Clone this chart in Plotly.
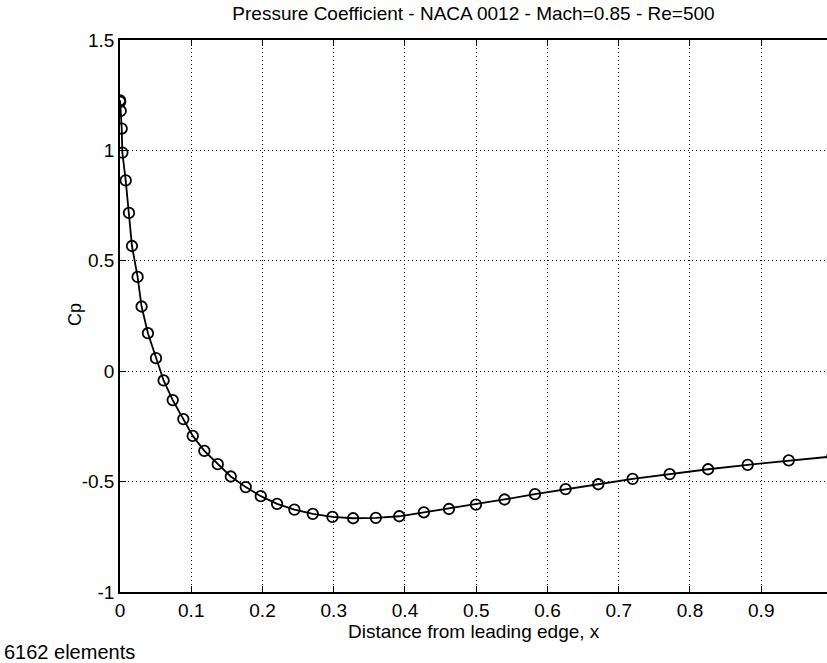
import plotly.graph_objects as go

# Data
x_pos = [0.0, 0.0002, 0.001, 0.0024, 0.0033, 0.008, 0.0126, 0.0168, 0.0247, 0.0303,
         0.0392, 0.0505, 0.0612, 0.0740, 0.0889, 0.1021, 0.1184, 0.1372, 0.1555, 0.1765,
         0.1976, 0.2205, 0.2448, 0.2706, 0.2982, 0.3272, 0.3591, 0.3919, 0.4265, 0.4617,
         0.4996, 0.5397, 0.5824, 0.6254, 0.6713, 0.7195, 0.7715, 0.8254, 0.8810, 0.9386,
         1.0]
cp = [1.227, 1.220, 1.179, 1.099, 0.990, 0.864, 0.717, 0.567, 0.427, 0.293,
      0.172, 0.059, -0.042, -0.131, -0.217, -0.293, -0.361, -0.421, -0.477, -0.525,
      -0.566, -0.601, -0.627, -0.646, -0.660, -0.666, -0.664, -0.657, -0.639, -0.624,
      -0.604, -0.581, -0.557, -0.534, -0.512, -0.488, -0.466, -0.444, -0.424, -0.404,
      -0.386]

x_ticks = [0, 0.1, 0.2, 0.3, 0.4, 0.5, 0.6, 0.7, 0.8, 0.9]
x_tick_labels = ["0", "0.1", "0.2", "0.3", "0.4", "0.5", "0.6", "0.7", "0.8", "0.9"]
y_ticks = [-1, -0.5, 0, 0.5, 1, 1.5]
y_tick_labels = ["-1", "-0.5", "0", "0.5", "1", "1.5"]

title_text = "Pressure Coefficient - NACA 0012 - Mach=0.85 - Re=500"
x_title = "Distance from leading edge, x"
y_title = "Cp"
footer = "6162 elements"

FONT = "Helvetica, 'Liberation Sans', Arial, sans-serif"
ML, MR, MT, MB = 120, 0, 40, 71
W, H = 827, 663
PW = W - ML - MR
PH = H - MT - MB

fig = go.Figure()
fig.add_trace(go.Scatter(
    x=x_pos, y=cp, mode="lines+markers",
    line=dict(color="black", width=1.8),
    marker=dict(symbol="circle-open", size=10.5, color="black", line=dict(width=1.8)),
    showlegend=False,
))

fig.update_layout(
    width=W, height=H,
    margin=dict(l=ML, r=MR, t=MT, b=MB),
    paper_bgcolor="white", plot_bgcolor="white",
    font=dict(family=FONT, size=18, color="black"),
    title=dict(text=title_text, x=0.5, xref="paper", xanchor="center",
               y=1 - 13 / H, yref="container", yanchor="middle",
               font=dict(family=FONT, size=19, color="black")),
    annotations=[
        dict(text=footer, x=-(ML - 2) / PW, xref="paper", xanchor="left",
             y=0, yref="paper", yanchor="middle", yshift=-(652 - (H - MB)),
             showarrow=False, font=dict(family=FONT, size=20, color="black")),
        dict(text=x_title, x=0.5, xref="paper", xanchor="center",
             y=0, yref="paper", yanchor="middle", yshift=-(631 - (H - MB)),
             showarrow=False, font=dict(family=FONT, size=19, color="black")),
        dict(text=y_title, x=-(ML - 75) / PW, xref="paper", xanchor="center",
             y=1 - (315 - MT) / PH, yref="paper", yanchor="middle",
             textangle=-90,
             showarrow=False, font=dict(family=FONT, size=18, color="black")),
    ],
)

fig.update_xaxes(
    range=[0, 0.9923], tickvals=x_ticks, ticktext=x_tick_labels,
    showline=True, linecolor="black", linewidth=1.5, mirror="ticks",
    ticks="inside", ticklen=6, tickcolor="black", tickwidth=1,
    showgrid=True, gridcolor="black", gridwidth=1, griddash="1px,3px",
    zeroline=False,
    tickfont=dict(family=FONT, size=19),
)
fig.update_yaxes(
    range=[-1, 1.5], tickvals=y_ticks, ticktext=y_tick_labels,
    showline=True, linecolor="black", linewidth=1.5, mirror=False,
    ticks="inside", ticklen=6, tickcolor="black", tickwidth=1,
    showgrid=True, gridcolor="black", gridwidth=1, griddash="1px,3px",
    zeroline=False,
    tickfont=dict(family=FONT, size=19),
)

fig.write_html("out.html")
